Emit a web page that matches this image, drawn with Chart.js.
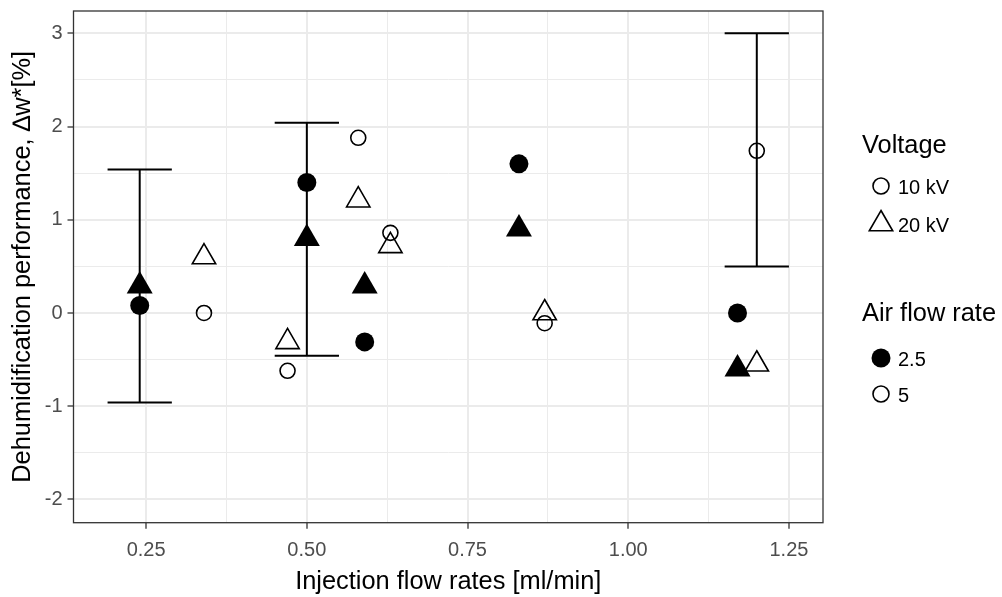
<!DOCTYPE html>
<html>
<head>
<meta charset="utf-8">
<script src="https://cdn.jsdelivr.net/npm/chart.js@4.4.1/dist/chart.umd.min.js"></script>
<style>
  body { margin: 0; background: #fff; }
  #wrap { position: relative; width: 1002px; height: 597px; overflow: hidden; font-family: "Liberation Sans", Arial, sans-serif; }
  #plot { position: absolute; left: 0; top: 0; }
  .lg { position: absolute; color: #000; white-space: nowrap; transform: translateY(-50%); line-height: 1; }
  .lgTitle { font-size: 25.4px; }
  .lgText { font-size: 20px; }
  .lgKey { position: absolute; transform: translate(-50%, -50%); }
</style>
</head>
<body>
<div id="wrap">
  <canvas id="plot" width="1002" height="597"></canvas>

  <div class="lg lgTitle" style="left:862px; top:145px;">Voltage</div>
  <svg class="lgKey" style="left:881px; top:186px;" width="24" height="24" viewBox="-12 -12 24 24"><circle r="8" fill="none" stroke="#000" stroke-width="1.6"/></svg>
  <div class="lg lgText" style="left:898px; top:187px;">10 kV</div>
  <svg class="lgKey" style="left:881px; top:224px;" width="32" height="32" viewBox="-16 -16 32 32"><polygon points="0,-13.5 11.7,6.75 -11.7,6.75" fill="none" stroke="#000" stroke-width="1.6"/></svg>
  <div class="lg lgText" style="left:898px; top:225px;">20 kV</div>

  <div class="lg lgTitle" style="left:862px; top:313px;">Air flow rate</div>
  <svg class="lgKey" style="left:881px; top:358px;" width="24" height="24" viewBox="-12 -12 24 24"><circle r="9.5" fill="#000"/></svg>
  <div class="lg lgText" style="left:898px; top:359px;">2.5</div>
  <svg class="lgKey" style="left:881px; top:394px;" width="24" height="24" viewBox="-12 -12 24 24"><circle r="8" fill="none" stroke="#000" stroke-width="1.6"/></svg>
  <div class="lg lgText" style="left:898px; top:395px;">5</div>
</div>

<script>
// axis ticks (major get labels, minor only grid lines)
const xMajor = [0.25, 0.50, 0.75, 1.00, 1.25];
const xMinor = [0.375, 0.625, 0.875, 1.125];
const yMajor = [-2, -1, 0, 1, 2, 3];
const yMinor = [-1.5, -0.5, 0.5, 1.5, 2.5];

// air flow 2.5, 10 kV (filled circle)
const flow_a25_v10 = [0.24, 0.50, 0.59, 0.83, 1.17];
const dw_a25_v10   = [0.08, 1.40, -0.31, 1.60, 0.00];
// air flow 2.5, 20 kV (filled triangle)
const flow_a25_v20 = [0.24, 0.50, 0.59, 0.83, 1.17];
const dw_a25_v20   = [0.29, 0.80, 0.29, 0.90, -0.60];
// air flow 5, 10 kV (open circle)
const flow_a5_v10 = [0.34, 0.47, 0.58, 0.63, 0.87, 1.20];
const dw_a5_v10   = [0.00, -0.62, 1.88, 0.86, -0.11, 1.74];
// air flow 5, 20 kV (open triangle)
const flow_a5_v20 = [0.34, 0.47, 0.58, 0.63, 0.87, 1.20];
const dw_a5_v20   = [0.60, -0.31, 1.21, 0.72, 0.00, -0.55];

// error bars
const errFlow = [0.24, 0.50, 1.20];
const errLow  = [-0.96, -0.46, 0.50];
const errHigh = [1.54, 2.04, 3.00];
const capHalf = 0.05;

function pts(xs, ys) {
  return xs.map((x, i) => ({ x: x, y: ys[i] }));
}

// error bar segments, broken by empty points
const gap = { x: null, y: null };
const errData = [];
errFlow.forEach((x, i) => {
  errData.push({ x: x - capHalf, y: errHigh[i] }, { x: x + capHalf, y: errHigh[i] }, gap);
  errData.push({ x: x, y: errHigh[i] }, { x: x, y: errLow[i] }, gap);
  errData.push({ x: x - capHalf, y: errLow[i] }, { x: x + capHalf, y: errLow[i] }, gap);
});

const isMajorX = v => xMajor.some(m => Math.abs(m - v) < 1e-6);
const isMajorY = v => yMajor.some(m => Math.abs(m - v) < 1e-6);

// panel border like ggplot theme_bw
const panelBorder = {
  id: 'panelBorder',
  afterDraw(chart) {
    const a = chart.chartArea;
    const ctx = chart.ctx;
    ctx.save();
    ctx.strokeStyle = '#333333';
    ctx.lineWidth = 1.3;
    ctx.strokeRect(a.left, a.top, a.right - a.left, a.bottom - a.top);
    ctx.restore();
  }
};

Chart.defaults.font.family = '"Liberation Sans", Arial, sans-serif';

new Chart(document.getElementById('plot'), {
  type: 'scatter',
  data: {
    datasets: [{
      data: pts(flow_a25_v10, dw_a25_v10),
      pointStyle: 'circle',
      pointRadius: 9.5,
      backgroundColor: '#000',
      borderWidth: 0
    }, {
      data: pts(flow_a25_v20, dw_a25_v20),
      pointStyle: 'triangle',
      pointRadius: 15,
      backgroundColor: '#000',
      borderWidth: 0
    }, {
      data: pts(flow_a5_v10, dw_a5_v10),
      pointStyle: 'circle',
      pointRadius: 7.5,
      backgroundColor: 'rgba(0,0,0,0)',
      borderColor: '#000',
      borderWidth: 1.6
    }, {
      data: pts(flow_a5_v20, dw_a5_v20),
      pointStyle: 'triangle',
      pointRadius: 13.5,
      backgroundColor: 'rgba(0,0,0,0)',
      borderColor: '#000',
      borderWidth: 1.6
    }, {
      data: errData,
      showLine: true,
      spanGaps: false,
      pointRadius: 0,
      borderColor: '#000',
      borderWidth: 2,
      tension: 0
    }]
  },
  options: {
    responsive: false,
    animation: false,
    layout: { autoPadding: false, padding: { left: 0, top: 11, right: 179, bottom: 0 } },
    plugins: {
      legend: { display: false },
      tooltip: { enabled: false }
    },
    scales: {
      x: {
        type: 'linear',
        min: 0.137,
        max: 1.303,
        afterBuildTicks: s => { s.ticks = xMajor.concat(xMinor).map(v => ({ value: v })); },
        afterFit: s => { s.height = 74.3; s.paddingLeft = 0; s.paddingRight = 0; },
        border: { display: false },
        grid: {
          color: '#EBEBEB',
          lineWidth: c => isMajorX(c.tick.value) ? 2 : 1,
          tickColor: c => isMajorX(c.tick.value) ? '#333333' : 'rgba(0,0,0,0)',
          tickWidth: 1.3,
          tickLength: 6
        },
        ticks: {
          autoSkip: false,
          maxRotation: 0,
          padding: 10,
          color: '#4D4D4D',
          font: { size: 20 },
          callback: v => isMajorX(v) ? v.toFixed(2) : ''
        },
        title: {
          display: true,
          text: 'Injection flow rates [ml/min]',
          color: '#000',
          font: { size: 25.4 },
          padding: { top: 0, bottom: 0 }
        }
      },
      y: {
        type: 'linear',
        min: -2.25,
        max: 3.24,
        afterBuildTicks: s => { s.ticks = yMajor.concat(yMinor).map(v => ({ value: v })); },
        afterFit: s => { s.width = 73.5; s.paddingTop = 0; s.paddingBottom = 0; },
        border: { display: false },
        grid: {
          color: '#EBEBEB',
          lineWidth: c => isMajorY(c.tick.value) ? 2 : 1,
          tickColor: c => isMajorY(c.tick.value) ? '#333333' : 'rgba(0,0,0,0)',
          tickWidth: 1.3,
          tickLength: 6
        },
        ticks: {
          autoSkip: false,
          padding: 5,
          color: '#4D4D4D',
          font: { size: 20 },
          callback: v => isMajorY(v) ? String(v) : ''
        },
        title: {
          display: true,
          text: 'Dehumidification performance, \u2206w*[%]',
          color: '#000',
          font: { size: 25.4 },
          padding: { top: 8, bottom: 0 }
        }
      }
    }
  },
  plugins: [panelBorder]
});
</script>
</body>
</html>
